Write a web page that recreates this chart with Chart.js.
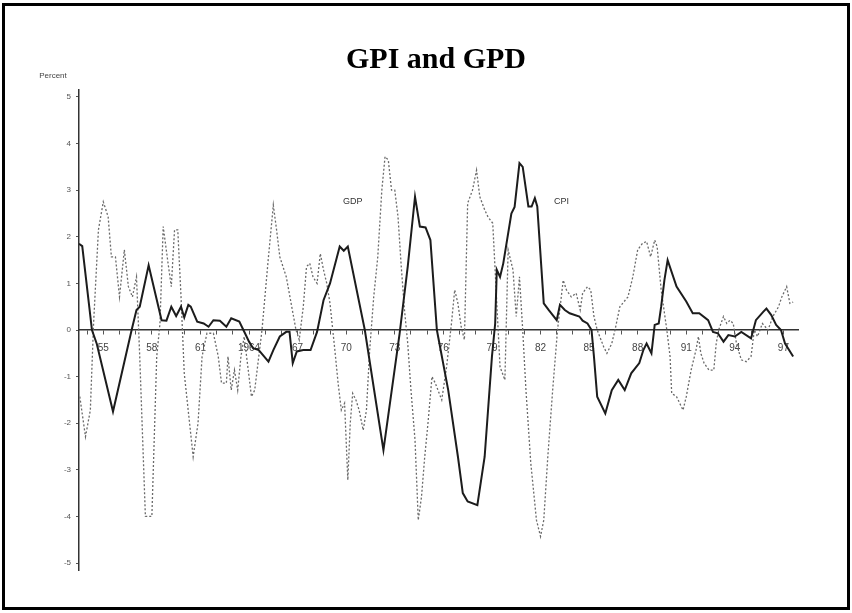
<!DOCTYPE html>
<html>
<head>
<meta charset="utf-8">
<script src="https://cdn.jsdelivr.net/npm/chart.js@4.4.1/dist/chart.umd.min.js"></script>
<style>
  body { margin: 0; background: #fff; }
  canvas { display: block; }
</style>
</head>
<body>
<canvas id="grafico" width="852" height="613"></canvas>
<script>
// solid line (CPI)
const cpiYears = [1953.5, 1953.7, 1954.3, 1954.6, 1955.6, 1956.75, 1957.05, 1957.25, 1957.8, 1958.6, 1958.9, 1959.2, 1959.5, 1959.8, 1960.0, 1960.25, 1960.4, 1960.8, 1961.2, 1961.5, 1961.8, 1962.2, 1962.6, 1962.9, 1963.4, 1963.75, 1964.0, 1964.25, 1964.6, 1965.2, 1965.5, 1965.9, 1966.3, 1966.5, 1966.7, 1966.95, 1967.35, 1967.8, 1968.2, 1968.6, 1969.0, 1969.6, 1969.85, 1970.1, 1971.15, 1972.3, 1973.3, 1973.8, 1974.25, 1974.55, 1974.9, 1975.2, 1975.6, 1976.3, 1976.9, 1977.2, 1977.5, 1978.1, 1978.55, 1979.0, 1979.2, 1979.3, 1979.5, 1979.7, 1980.2, 1980.4, 1980.7, 1980.9, 1981.25, 1981.45, 1981.65, 1981.8, 1982.2, 1982.5, 1983.0, 1983.2, 1983.5, 1983.8, 1984.4, 1984.6, 1984.9, 1985.15, 1985.3, 1985.5, 1986.0, 1986.4, 1986.8, 1987.2, 1987.6, 1988.1, 1988.35, 1988.55, 1988.85, 1989.05, 1989.3, 1989.45, 1989.65, 1989.85, 1990.4, 1991.0, 1991.4, 1991.8, 1992.35, 1992.65, 1992.95, 1993.3, 1993.6, 1994.0, 1994.4, 1995.0, 1995.3, 1995.75, 1995.95, 1996.25, 1996.55, 1996.85, 1997.1, 1997.6];
const cpiValues = [1.85, 1.8, 0.0, -0.3, -1.75, 0.0, 0.43, 0.5, 1.39, 0.21, 0.2, 0.5, 0.3, 0.5, 0.27, 0.54, 0.5, 0.18, 0.14, 0.07, 0.21, 0.2, 0.07, 0.25, 0.18, -0.07, -0.25, -0.39, -0.43, -0.68, -0.43, -0.14, -0.04, -0.04, -0.71, -0.46, -0.43, -0.43, -0.04, 0.64, 1.0, 1.79, 1.7, 1.79, 0.0, -2.58, -0.07, 1.36, 2.86, 2.22, 2.2, 1.93, 0.0, -1.29, -2.72, -3.5, -3.68, -3.76, -2.72, -0.57, 0.14, 1.29, 1.14, 1.43, 2.5, 2.64, 3.58, 3.5, 2.65, 2.65, 2.83, 2.65, 0.57, 0.43, 0.21, 0.54, 0.43, 0.36, 0.29, 0.2, 0.14, 0.0, -0.57, -1.43, -1.79, -1.29, -1.07, -1.29, -0.93, -0.71, -0.43, -0.29, -0.5, 0.11, 0.14, 0.5, 1.07, 1.5, 0.93, 0.61, 0.36, 0.36, 0.21, -0.04, -0.07, -0.25, -0.11, -0.14, -0.04, -0.18, 0.21, 0.39, 0.46, 0.32, 0.11, 0.0, -0.29, -0.57];

// dotted line (GDP)
const gdpYears = [1953.55, 1953.9, 1954.2, 1954.4, 1954.7, 1955.0, 1955.3, 1955.5, 1955.75, 1956.0, 1956.3, 1956.55, 1956.8, 1957.05, 1957.25, 1957.6, 1958.0, 1958.3, 1958.5, 1958.7, 1959.0, 1959.2, 1959.4, 1959.6, 1959.8, 1960.0, 1960.55, 1960.85, 1961.1, 1961.4, 1961.8, 1962.1, 1962.3, 1962.6, 1962.7, 1962.9, 1963.1, 1963.3, 1963.5, 1963.7, 1964.15, 1964.35, 1964.8, 1965.2, 1965.5, 1965.7, 1965.9, 1966.3, 1966.6, 1966.9, 1967.1, 1967.35, 1967.55, 1967.75, 1967.95, 1968.2, 1968.4, 1968.6, 1968.8, 1969.0, 1969.3, 1969.5, 1969.7, 1969.9, 1970.1, 1970.25, 1970.4, 1970.6, 1970.8, 1971.05, 1971.25, 1971.45, 1971.7, 1971.95, 1972.2, 1972.4, 1972.6, 1972.8, 1973.0, 1973.2, 1973.4, 1973.6, 1973.8, 1974.0, 1974.25, 1974.45, 1974.65, 1974.85, 1975.05, 1975.3, 1975.5, 1975.9, 1976.2, 1976.5, 1976.7, 1976.9, 1977.1, 1977.3, 1977.5, 1977.8, 1978.05, 1978.25, 1978.55, 1978.75, 1979.05, 1979.3, 1979.5, 1979.8, 1980.0, 1980.3, 1980.5, 1980.7, 1980.9, 1981.1, 1981.4, 1981.75, 1982.0, 1982.2, 1982.45, 1982.75, 1983.05, 1983.4, 1983.6, 1983.9, 1984.2, 1984.45, 1984.6, 1984.9, 1985.1, 1985.3, 1985.5, 1985.9, 1986.1, 1986.4, 1986.6, 1986.9, 1987.4, 1987.7, 1988.0, 1988.3, 1988.55, 1988.8, 1989.05, 1989.2, 1989.45, 1989.8, 1990.0, 1990.1, 1990.4, 1990.8, 1991.0, 1991.3, 1991.6, 1991.75, 1991.9, 1992.1, 1992.4, 1992.7, 1992.85, 1993.0, 1993.3, 1993.5, 1993.7, 1993.9, 1994.1, 1994.4, 1994.7, 1995.0, 1995.2, 1995.4, 1995.7, 1996.05, 1996.35, 1996.7, 1996.9, 1997.2, 1997.4, 1997.6];
const gdpValues = [-1.43, -2.29, -1.72, 0.14, 2.15, 2.75, 2.43, 1.57, 1.57, 0.71, 1.72, 0.93, 0.71, 1.14, -0.57, -4.0, -4.0, -0.57, 0.14, 2.22, 1.43, 0.93, 2.15, 2.15, 0.71, -0.93, -2.72, -2.0, -0.57, -0.07, -0.07, -0.57, -1.14, -1.14, -0.57, -1.29, -0.86, -1.29, -0.57, -0.14, -1.43, -1.29, 0.0, 1.57, 2.68, 2.15, 1.57, 1.14, 0.57, 0.0, -0.21, 0.5, 1.36, 1.43, 1.14, 1.0, 1.64, 1.29, 1.0, 0.57, -0.43, -1.14, -1.72, -1.57, -3.22, -2.0, -1.36, -1.5, -1.72, -2.15, -1.72, -0.43, 0.71, 1.57, 3.0, 3.72, 3.65, 3.0, 3.0, 2.43, 1.36, 0.43, -0.29, -1.29, -2.36, -4.08, -3.58, -2.72, -2.0, -1.0, -1.14, -1.5, -0.79, 0.14, 0.86, 0.57, 0.07, -0.21, 2.72, 3.0, 3.43, 2.86, 2.58, 2.43, 2.29, 0.57, -0.79, -1.07, 1.72, 1.29, 0.29, 1.14, 0.0, -1.29, -2.86, -4.08, -4.43, -4.08, -2.72, -1.29, 0.0, 1.07, 0.86, 0.71, 0.79, 0.43, 0.79, 0.93, 0.86, 0.29, 0.0, -0.36, -0.5, -0.29, 0.0, 0.5, 0.71, 1.14, 1.72, 1.86, 1.9, 1.57, 1.93, 1.79, 0.86, 0.0, -0.57, -1.36, -1.43, -1.72, -1.43, -0.86, -0.43, -0.14, -0.5, -0.71, -0.86, -0.86, -0.29, 0.0, 0.29, 0.14, 0.21, 0.14, -0.29, -0.64, -0.68, -0.57, 0.0, -0.14, 0.14, 0.0, 0.29, 0.5, 0.71, 0.93, 0.57, 0.6];

const yTicks = [-5, -4, -3, -2, -1, 0, 1, 2, 3, 4, 5];
const xTickYears = [1955, 1958, 1961, 1964, 1967, 1970, 1973, 1976, 1979, 1982, 1985, 1988, 1991, 1994, 1997];
const xTickLabels = ['55', '58', '61', '1964', '67', '70', '73', '76', '79', '82', '85', '88', '91', '94', '97'];
const minorYears = [1954, 1955, 1956, 1957, 1958, 1959, 1960, 1961, 1962, 1963, 1964, 1965, 1966, 1967, 1968, 1969, 1970, 1971, 1972, 1973, 1974, 1975, 1976, 1977, 1978, 1979, 1980, 1981, 1982, 1983, 1984, 1985, 1986, 1987, 1988, 1989, 1990, 1991, 1992, 1993, 1994, 1995, 1996, 1997];

const titulo = 'GPI and GPD';
const etiquetas = [
    { text: 'GDP', x: 1970.4, y: 2.75 },
    { text: 'CPI', x: 1983.3, y: 2.75 }
];

function puntos(xs, ys) {
    return xs.map((x, i) => ({ x: x, y: ys[i] }));
}

const extras = {
    id: 'extras',
    afterDraw(chart) {
        const ctx = chart.ctx;
        const sx = chart.scales.x, sy = chart.scales.y;
        ctx.save();
        ctx.textAlign = 'center';
        ctx.textBaseline = 'middle';
        // titulo
        ctx.fillStyle = '#000';
        ctx.font = 'bold 30px "Liberation Serif", "Times New Roman", serif';
        ctx.fillText(titulo, 436, 60);
        ctx.fillStyle = '#444';
        ctx.font = '8px "Liberation Sans", Arial';
        ctx.fillText('Percent', 53, 76);
        ctx.font = '9px "Liberation Sans", Arial';
        ctx.fillStyle = '#333';
        etiquetas.forEach(e => {
            ctx.fillText(e.text, sx.getPixelForValue(e.x), sy.getPixelForValue(e.y));
        });
        ctx.strokeStyle = '#000';
        ctx.lineWidth = 3;
        ctx.strokeRect(3.5, 4.5, 845, 604);
        ctx.restore();
    }
};

const ctx = document.getElementById('grafico').getContext('2d');
const myChart = new Chart(ctx, {
    type: 'line',
    data: {
        datasets: [{
            label: 'CPI',
            data: puntos(cpiYears, cpiValues),
            borderColor: '#1c1c1c',
            borderWidth: 2,
            pointRadius: 0,
            tension: 0
        }, {
            label: 'GDP',
            data: puntos(gdpYears, gdpValues),
            borderColor: '#6a6a6a',
            borderWidth: 1.3,
            borderDash: [2, 2],
            pointRadius: 0,
            tension: 0
        }]
    },
    options: {
        responsive: false,
        animation: false,
        devicePixelRatio: 1,
        layout: { padding: { left: 49, right: 54, top: 90, bottom: 43 } },
        plugins: {
            legend: { display: false },
            tooltip: { enabled: false },
            title: { display: false }
        },
        scales: {
            x: {
                type: 'linear',
                position: { y: 0 },
                min: 1953.5,
                max: 1997.9,
                afterBuildTicks: s => { s.ticks = minorYears.map(v => ({ value: v })); },
                ticks: {
                    autoSkip: false,
                    maxRotation: 0,
                    padding: 8,
                    color: '#444',
                    font: { family: '"Liberation Sans", Arial', size: 10 },
                    callback: v => {
                        const i = xTickYears.indexOf(v);
                        return i >= 0 ? xTickLabels[i] : '';
                    }
                },
                grid: { drawOnChartArea: false, tickLength: 4, color: '#555' },
                border: { color: '#333', width: 1.5 }
            },
            y: {
                min: -5.15,
                max: 5.15,
                afterBuildTicks: s => { s.ticks = yTicks.map(v => ({ value: v })); },
                afterFit: s => { s.width = 30; },
                ticks: {
                    padding: 5,
                    color: '#555',
                    font: { family: '"Liberation Sans", Arial', size: 8 }
                },
                grid: { drawOnChartArea: false, tickLength: 3, color: '#555' },
                border: { color: '#333', width: 1.5 }
            }
        }
    },
    plugins: [extras]
});
</script>
</body>
</html>
